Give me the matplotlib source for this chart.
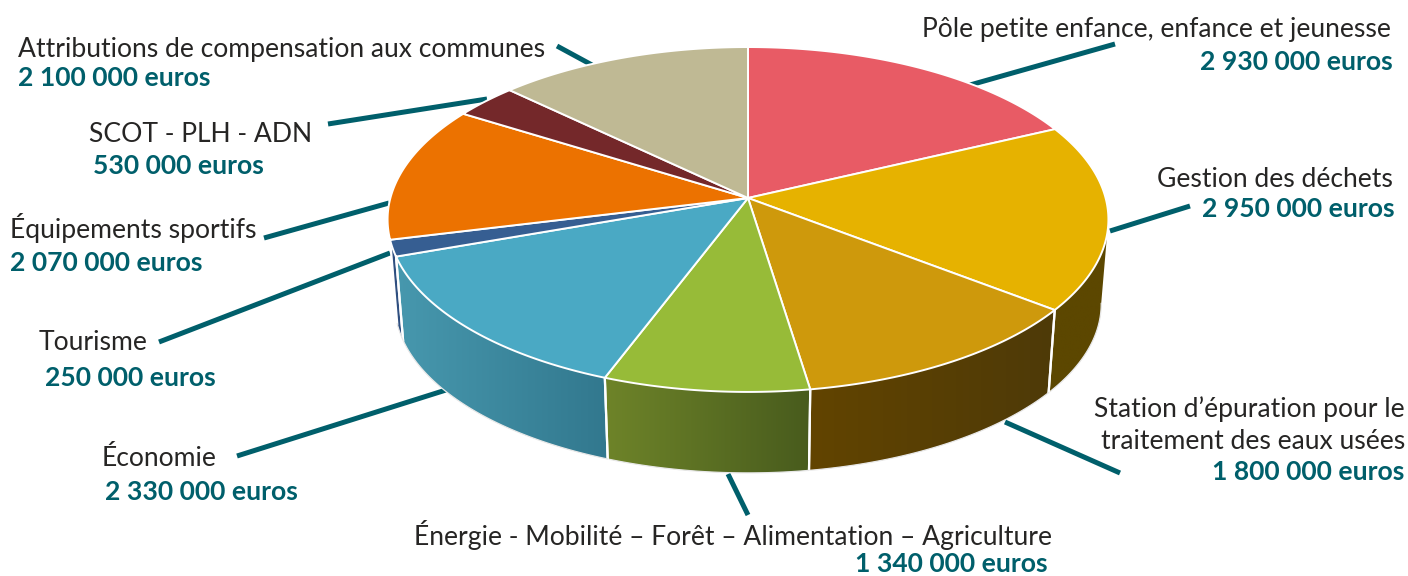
import numpy as np
import matplotlib
matplotlib.use("Agg")
import matplotlib.pyplot as plt
from matplotlib.patches import Polygon
from matplotlib.colors import LinearSegmentedColormap

categories = ["Pôle petite enfance, enfance et jeunesse", "Gestion des déchets",
              "Station d’épuration pour le\ntraitement des eaux usées",
              "Énergie - Mobilité – Forêt – Alimentation – Agriculture",
              "Économie", "Tourisme", "Équipements sportifs",
              "SCOT - PLH - ADN", "Attributions de compensation aux communes"]
values = [2930000, 2950000, 1800000, 1340000, 2330000, 250000, 2070000, 530000, 2100000]
top_colors = ["#E85B65", "#E6B200", "#CE990C", "#97BB38", "#4AA9C4", "#365E92", "#EC7200", "#74282A", "#BFB994"]
side_left = ["#8a3a40", "#5C4700", "#624400", "#6E8429", "#4798AE", "#2F4F80", "#8a4500", "#401515", "#77735a"]
side_right = ["#8a3a40", "#5C4700", "#4E3A08", "#485B1D", "#32788E", "#2F4F80", "#8a4500", "#401515", "#77735a"]
boundary_nudge = [0, -2.3, 1.6, 1.5, 0, 0, 0, 0, 0]

TEAL = "#005F6B"
INK = "#262524"
FONT = "Lato"

# label layout: (x, baseline y, ha) for name and value
name_pos = [(1391, 37, "right"), (1393, 187, "right"), (1405, 417, "right"), (414, 545, "left"),
            (102, 466, "left"), (39, 350, "left"), (10, 238, "left"), (89, 142, "left"), (18, 57, "left")]
value_pos = [(1393, 70, "right"), (1395, 217, "right"), (1404, 480, "right"), (1048, 572.5, "right"),
             (105, 500, "left"), (45, 386, "left"), (10, 271, "left"), (93, 174, "left"), (18, 86, "left")]
leaders = [((970, 85), (1115, 44)), ((1110, 231), (1190, 206)), ((1005, 422), (1120, 473)),
           ((728, 474), (748, 515)), ((237, 456), (446, 390)), ((159, 342), (390, 253)),
           ((264, 238), (389, 203)), ((328, 124), (487, 99)), ((557, 46), (592, 65))]

# projective view of the disc
CX, AY, A, B, C = 748.0, 198.0, 357.6, -145.1, 0.1246


def top(t):
    t = np.radians(t)
    u, v = np.sin(t), np.cos(t)
    d = C * v + 1
    return CX + A * u / d, (B * v + AY) / d


def bottom(t):
    x, y = top(t)
    s = 0.98
    return CX + s * (x - CX), s * y + 88.8


fig = plt.figure(figsize=(14.08, 5.76), dpi=100, facecolor="white")
ax = fig.add_axes([0, 0, 1, 1])
ax.set_xlim(0, 1408)
ax.set_ylim(576, 0)
ax.axis("off")

for p, q in leaders:
    ax.plot([p[0], q[0]], [p[1], q[1]], color=TEAL, lw=3.6, solid_capstyle="butt", zorder=1)

bounds = np.concatenate([[0], np.cumsum(values)]) / np.sum(values) * 360
bounds[1:] += np.array(boundary_nudge)
T_START, T_END = 97.0, bounds[6]

# side walls, filled with a left-to-right gradient clipped to each wall
ramp = np.linspace(0, 1, 256).reshape(1, -1)
for i in range(len(values)):
    a0, a1 = max(bounds[i], T_START), min(bounds[i + 1], T_END)
    if a1 <= a0:
        continue
    ts = np.linspace(a0, a1, 100)
    xt, yt = top(ts)
    xb, yb = bottom(ts)
    outline = np.column_stack([np.r_[xt, xb[::-1]], np.r_[yt, yb[::-1]]])
    clip = Polygon(outline, closed=True, transform=ax.transData, fc="none", ec="none")
    ax.add_patch(clip)
    cmap = LinearSegmentedColormap.from_list("w", [side_left[i], side_right[i]])
    im = ax.imshow(ramp, cmap=cmap, aspect="auto", zorder=2, interpolation="bilinear",
                   extent=(outline[:, 0].min(), outline[:, 0].max(), outline[:, 1].max(), outline[:, 1].min()))
    im.set_clip_path(clip)
    if a0 == bounds[i]:
        ax.plot([xt[0], xb[0]], [yt[0], yb[0]], color="white", lw=1.6, zorder=3)
    if a1 == bounds[i + 1]:
        ax.plot([xt[-1], xb[-1]], [yt[-1], yb[-1]], color="white", lw=1.6, zorder=3)
    ax.plot(xb, yb, color="#E8E8E8", lw=0.9, zorder=3)
ax.set_xlim(0, 1408)
ax.set_ylim(576, 0)

# top wedges
for i in range(len(values)):
    ts = np.linspace(bounds[i], bounds[i + 1], 120)
    x, y = top(ts)
    pts = np.column_stack([np.r_[CX, x], np.r_[AY, y]])
    ax.add_patch(Polygon(pts, closed=True, fc=top_colors[i], ec="white", lw=1.4, joinstyle="round", zorder=4))

for name, value, np_, vp in zip(categories, values, name_pos, value_pos):
    for j, line in enumerate(name.split("\n")):
        ax.text(np_[0], np_[1] + j * 32, line, ha=np_[2], va="baseline", family=FONT,
                fontsize=19.05, color=INK, zorder=6)
    label = f"{value:,}".replace(",", " ") + " euros"
    ax.text(vp[0], vp[1], label, ha=vp[2], va="baseline", family=FONT, fontweight="bold",
            fontsize=19.05, color=TEAL, zorder=6)

fig.savefig("out.png", dpi=100, facecolor="white")
